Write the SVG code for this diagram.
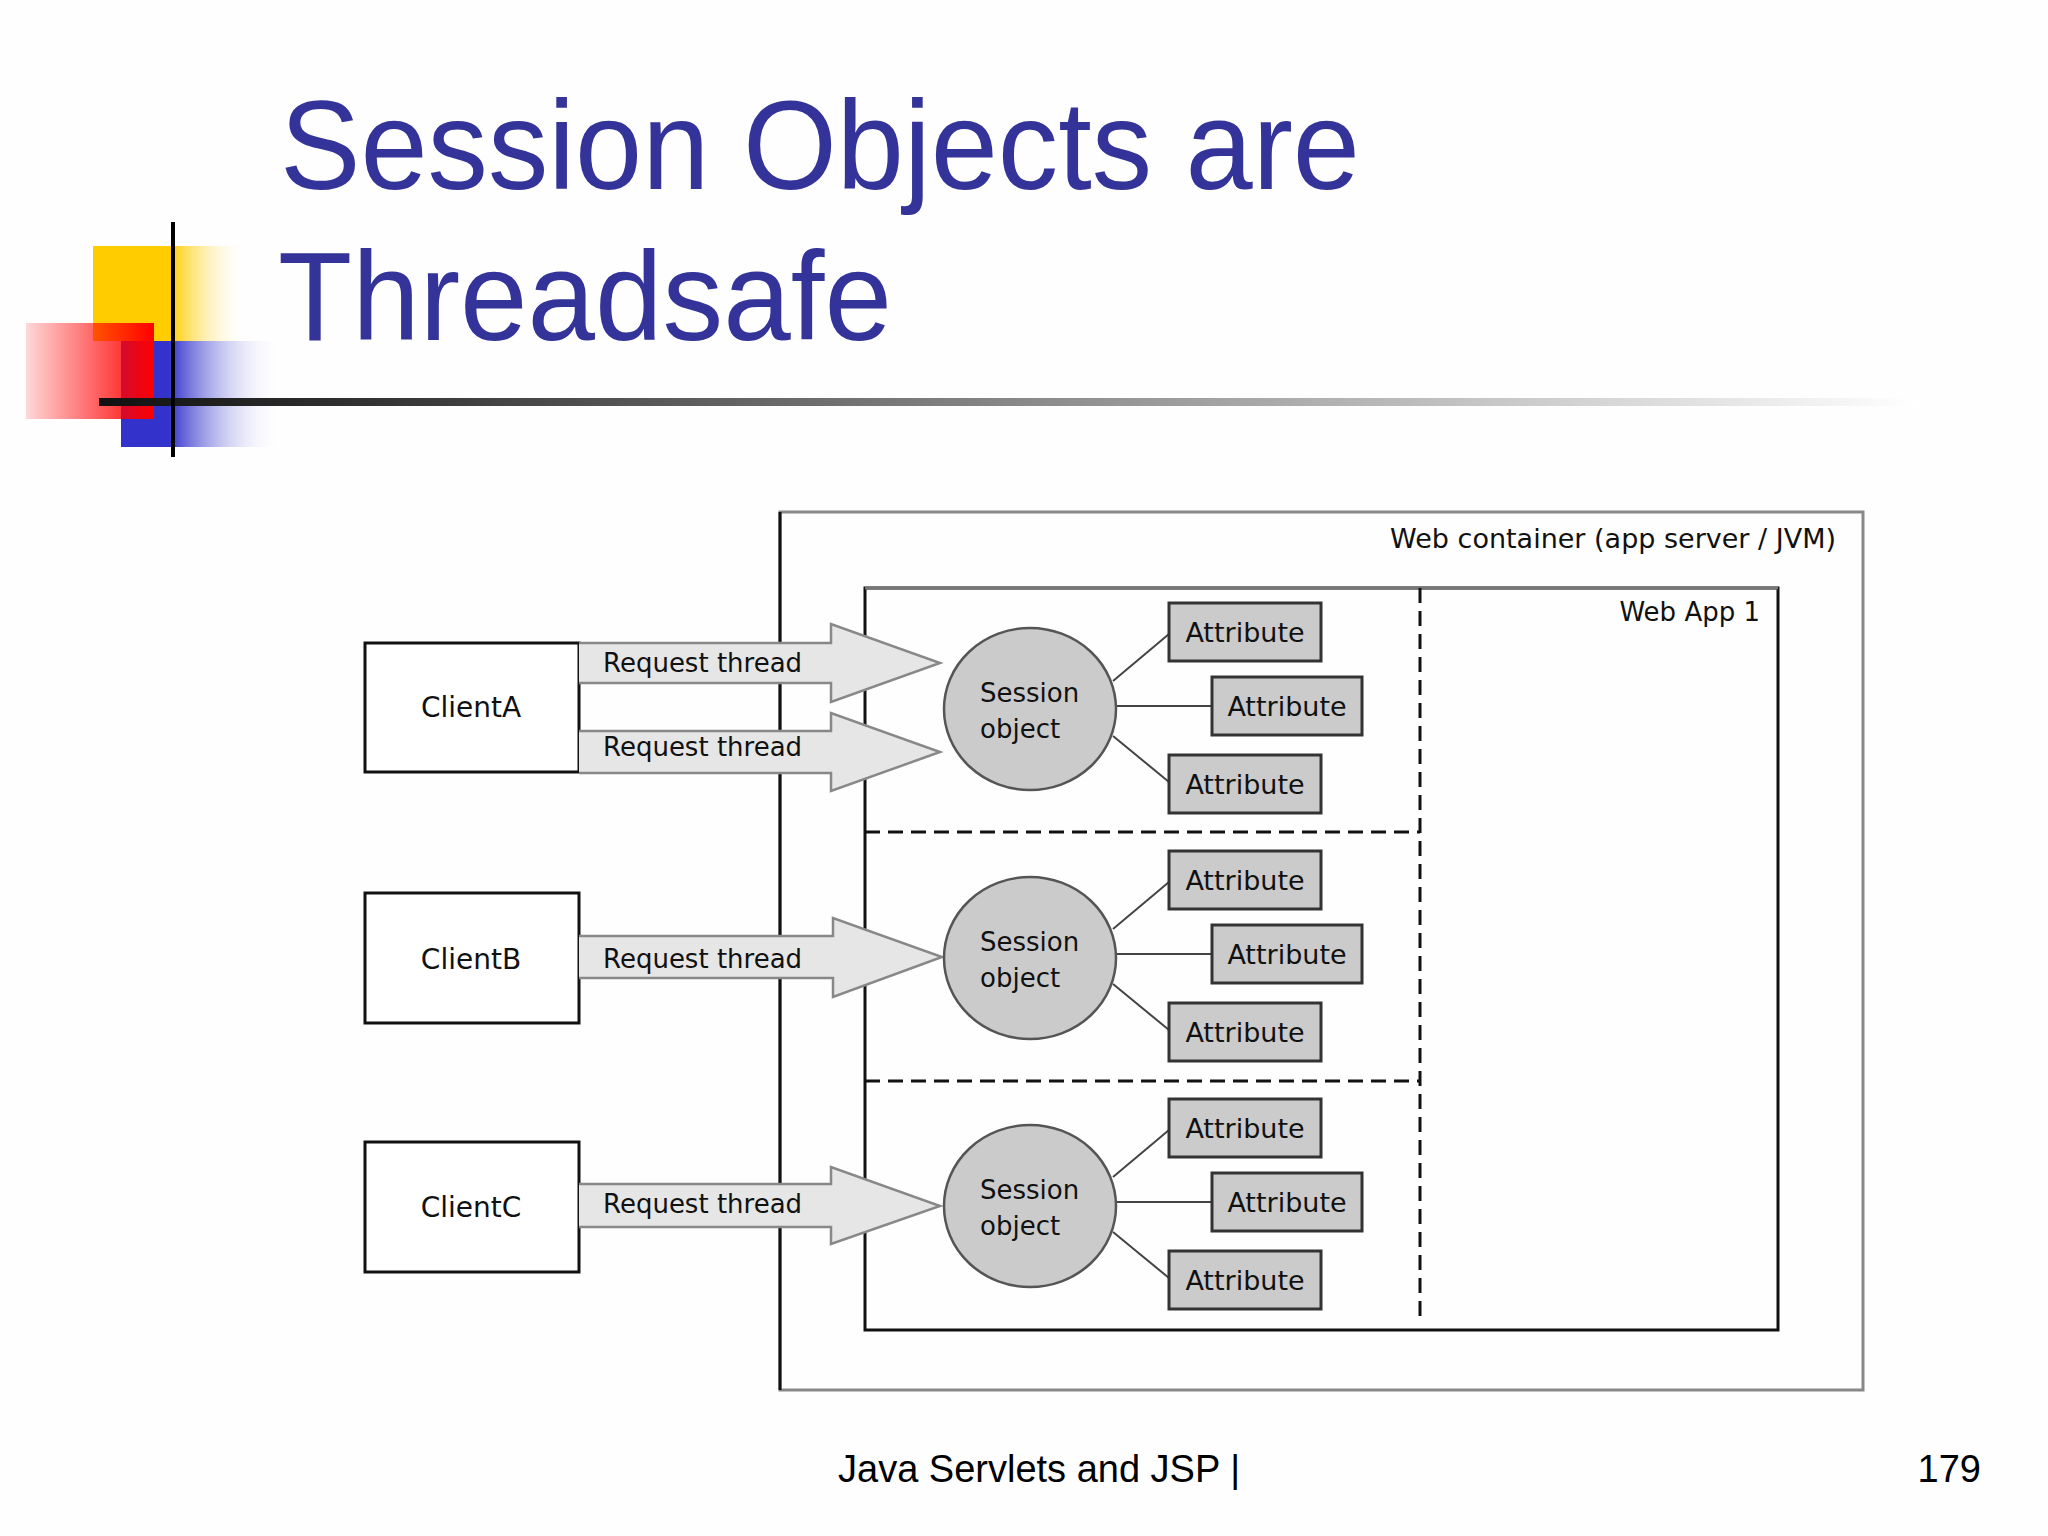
<svg xmlns="http://www.w3.org/2000/svg" width="2048" height="1536" viewBox="0 0 2048 1536">
<defs>
<linearGradient id="gYellow" x1="0" y1="0" x2="1" y2="0"><stop offset="0" stop-color="#FFCC00"/><stop offset="0.5" stop-color="#FFCC00"/><stop offset="1" stop-color="#FFFFFF" stop-opacity="0"/></linearGradient>
<linearGradient id="gBlue" x1="0" y1="0" x2="1" y2="0"><stop offset="0" stop-color="#3333CC"/><stop offset="0.3" stop-color="#3333CC"/><stop offset="1" stop-color="#FFFFFF" stop-opacity="0"/></linearGradient>
<linearGradient id="gRed" x1="0" y1="0" x2="1" y2="0"><stop offset="0" stop-color="#FF0000" stop-opacity="0.15"/><stop offset="1" stop-color="#FF0000" stop-opacity="1"/></linearGradient>
<linearGradient id="gLine" x1="0" y1="0" x2="1" y2="0"><stop offset="0" stop-color="#111111"/><stop offset="0.15" stop-color="#333333"/><stop offset="1" stop-color="#FFFFFF"/></linearGradient>
<style>
.title{font-family:"Liberation Sans",Arial,sans-serif;font-size:126px;fill:#333399}
.foot{font-family:"Liberation Sans",Arial,sans-serif;font-size:38px;fill:#000}
.lbl{font-family:"DejaVu Sans",sans-serif;font-size:27px;fill:#111}
.client{fill:#fff;stroke:#111;stroke-width:3}
.sess{fill:#cbcbcb;stroke:#555;stroke-width:2.5}
.attr{fill:#cbcbcb;stroke:#333;stroke-width:3}
.arrow{fill:#e6e6e6;stroke:#888;stroke-width:2.5}
.link{stroke:#444;stroke-width:2;fill:none}
.dash{stroke:#111;stroke-width:3;stroke-dasharray:15 8;fill:none}
</style>
</defs>
<rect width="2048" height="1536" fill="#fefefe"/>

<g id="decoration">
<rect x="93" y="246" width="155" height="95" fill="url(#gYellow)"/>
<rect x="121" y="341" width="160" height="106" fill="url(#gBlue)"/>
<rect x="26" y="323" width="128" height="96" fill="url(#gRed)"/>
<rect x="99" y="398" width="1820" height="8" fill="url(#gLine)"/>
<line x1="173" y1="222" x2="173" y2="457" stroke="#000" stroke-width="4"/>
</g>

<g id="title">
<text class="title" x="280" y="189" textLength="1080" lengthAdjust="spacingAndGlyphs">Session Objects are</text>
<text class="title" x="278" y="340" textLength="614" lengthAdjust="spacingAndGlyphs">Threadsafe</text>
</g>

<g id="web-container">
<rect x="780" y="512" width="1083" height="878" fill="none" stroke="#888" stroke-width="3"/>
<line x1="780" y1="512" x2="780" y2="1390" stroke="#111" stroke-width="3"/>
<text class="lbl" x="1836" y="548" text-anchor="end">Web container (app server / JVM)</text>
</g>

<g id="web-app-1">
<rect x="865" y="588" width="913" height="742" fill="none" stroke="#111" stroke-width="3"/>
<line x1="865" y1="588" x2="1778" y2="588" stroke="#777" stroke-width="3"/>
<text class="lbl" x="1760" y="621" text-anchor="end" style="font-size:26px">Web App 1</text>
<line class="dash" x1="1420" y1="588" x2="1420" y2="1322"/>
<line class="dash" x1="865" y1="832" x2="1420" y2="832"/>
<line class="dash" x1="865" y1="1081" x2="1420" y2="1081"/>
</g>

<g id="clientA"><rect class="client" x="365" y="643" width="214" height="129"/><text class="lbl" x="471" y="717" text-anchor="middle" style="font-size:28px">ClientA</text></g>
<g id="clientB"><rect class="client" x="365" y="893" width="214" height="130"/><text class="lbl" x="471" y="969" text-anchor="middle" style="font-size:28px">ClientB</text></g>
<g id="clientC"><rect class="client" x="365" y="1142" width="214" height="130"/><text class="lbl" x="471" y="1217" text-anchor="middle" style="font-size:28px">ClientC</text></g>

<g id="connectors">
<path class="arrow" d="M579,643 H831 V624 L940,663 L831,702 V683 H579"/>
<path class="arrow" d="M579,731 H831 V713 L940,752 L831,791 V773 H579"/>
<path class="arrow" d="M579,936 H833 V918 L942,957 L833,997 V978 H579"/>
<path class="arrow" d="M579,1184 H831 V1167 L940,1206 L831,1244 V1227 H579"/>
<text class="lbl" x="603" y="672" style="font-size:26px">Request thread</text>
<text class="lbl" x="603" y="756" style="font-size:26px">Request thread</text>
<text class="lbl" x="603" y="968" style="font-size:26px">Request thread</text>
<text class="lbl" x="603" y="1213" style="font-size:26px">Request thread</text>
<line class="link" x1="1113" y1="681" x2="1169" y2="634"/>
<line class="link" x1="1115" y1="706" x2="1212" y2="706"/>
<line class="link" x1="1113" y1="736" x2="1169" y2="782"/>
<line class="link" x1="1113" y1="929" x2="1169" y2="882"/>
<line class="link" x1="1115" y1="954" x2="1212" y2="954"/>
<line class="link" x1="1113" y1="984" x2="1169" y2="1030"/>
<line class="link" x1="1113" y1="1177" x2="1169" y2="1130"/>
<line class="link" x1="1115" y1="1202" x2="1212" y2="1202"/>
<line class="link" x1="1113" y1="1232" x2="1169" y2="1278"/>
</g>

<g id="session-A">
<ellipse class="sess" cx="1030" cy="709" rx="86" ry="81"/>
<text class="lbl" x="980" y="702" style="font-size:26px">Session</text>
<text class="lbl" x="980" y="738" style="font-size:26px">object</text>
</g>
<g id="session-B">
<ellipse class="sess" cx="1030" cy="958" rx="86" ry="81"/>
<text class="lbl" x="980" y="951" style="font-size:26px">Session</text>
<text class="lbl" x="980" y="987" style="font-size:26px">object</text>
</g>
<g id="session-C">
<ellipse class="sess" cx="1030" cy="1206" rx="86" ry="81"/>
<text class="lbl" x="980" y="1199" style="font-size:26px">Session</text>
<text class="lbl" x="980" y="1235" style="font-size:26px">object</text>
</g>

<g id="attr-A1"><rect class="attr" x="1169" y="603" width="152" height="58"/><text class="lbl" x="1245" y="642" text-anchor="middle">Attribute</text></g>
<g id="attr-A2"><rect class="attr" x="1212" y="677" width="150" height="58"/><text class="lbl" x="1287" y="716" text-anchor="middle">Attribute</text></g>
<g id="attr-A3"><rect class="attr" x="1169" y="755" width="152" height="58"/><text class="lbl" x="1245" y="794" text-anchor="middle">Attribute</text></g>
<g id="attr-B1"><rect class="attr" x="1169" y="851" width="152" height="58"/><text class="lbl" x="1245" y="890" text-anchor="middle">Attribute</text></g>
<g id="attr-B2"><rect class="attr" x="1212" y="925" width="150" height="58"/><text class="lbl" x="1287" y="964" text-anchor="middle">Attribute</text></g>
<g id="attr-B3"><rect class="attr" x="1169" y="1003" width="152" height="58"/><text class="lbl" x="1245" y="1042" text-anchor="middle">Attribute</text></g>
<g id="attr-C1"><rect class="attr" x="1169" y="1099" width="152" height="58"/><text class="lbl" x="1245" y="1138" text-anchor="middle">Attribute</text></g>
<g id="attr-C2"><rect class="attr" x="1212" y="1173" width="150" height="58"/><text class="lbl" x="1287" y="1212" text-anchor="middle">Attribute</text></g>
<g id="attr-C3"><rect class="attr" x="1169" y="1251" width="152" height="58"/><text class="lbl" x="1245" y="1290" text-anchor="middle">Attribute</text></g>

<g id="footer">
<text class="foot" x="838" y="1482">Java Servlets and JSP |</text>
<text class="foot" x="1981" y="1482" text-anchor="end">179</text>
</g>
</svg>
